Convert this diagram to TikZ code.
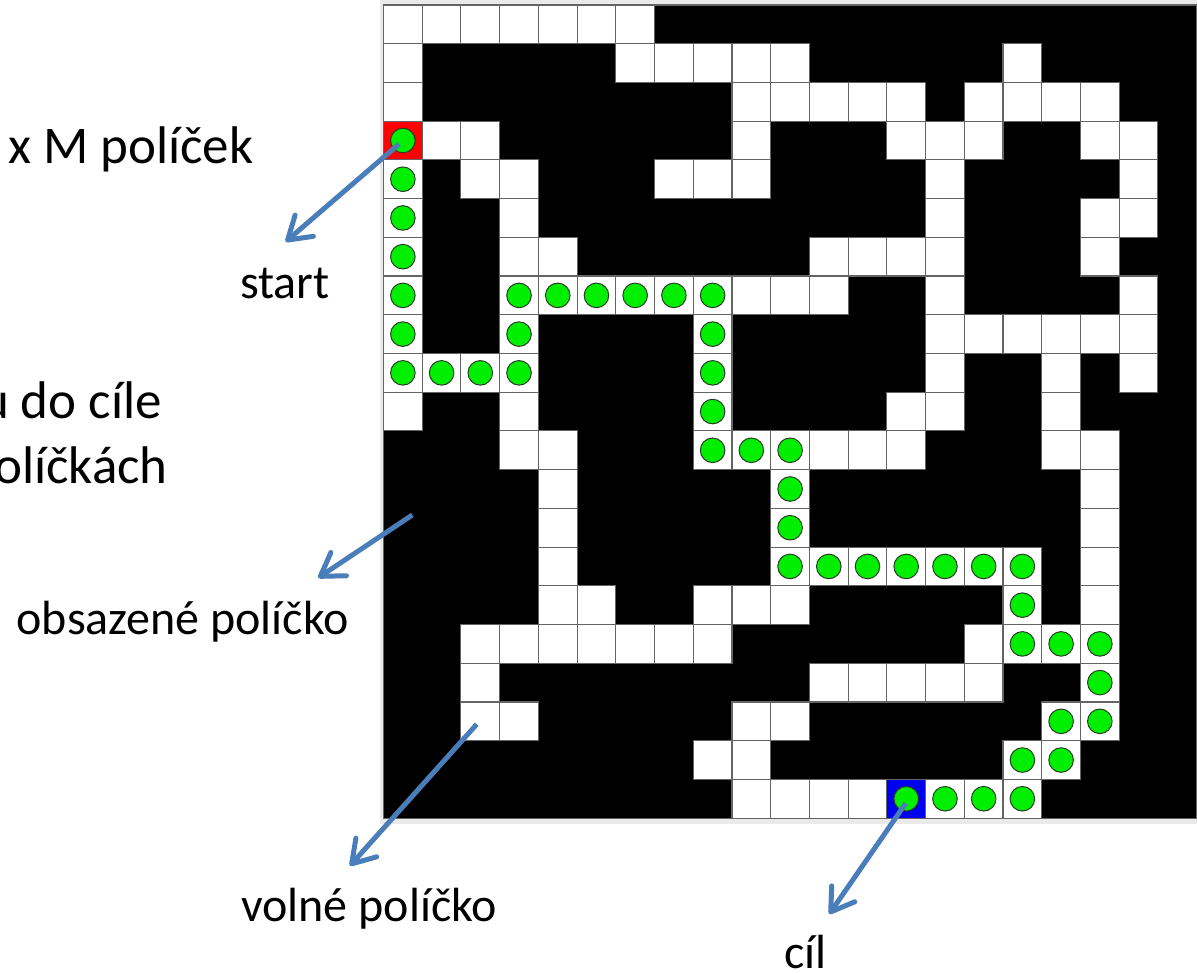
\documentclass[tikz,border=0pt]{standalone}
\usepackage{fontspec}
\setmainfont{Carlito}
\usetikzlibrary{arrows.meta}
\definecolor{pathgreen}{RGB}{0,238,0}
\definecolor{circline}{RGB}{40,60,40}
\definecolor{startred}{RGB}{255,0,0}
\definecolor{goalblue}{RGB}{0,0,240}
\definecolor{arrowblue}{RGB}{74,126,187}
\definecolor{gridgray}{RGB}{100,100,100}
\definecolor{framegray}{RGB}{234,234,234}
\tikzset{
  cellfree/.style={fill=white, draw=gridgray, line width=1.1pt},
  cellstart/.style={fill=startred, draw=gridgray, line width=1.1pt},
  cellgoal/.style={fill=goalblue, draw=gridgray, line width=1.1pt},
  dot/.style={fill=pathgreen, draw=circline, line width=1pt},
  lbl/.style={font=\fontsize{48}{58}\selectfont, inner sep=0pt, text=black},
  biglbl/.style={font=\fontsize{53}{64}\selectfont, inner sep=0pt, text=black},
  pointer/.style={draw=arrowblue, line width=5pt,
    -{Straight Barb[length=22pt,width=28pt,round]}},
}
\newcommand{\cs}{38.72}
\begin{document}
\begin{tikzpicture}[x=1pt,y=-1pt]
\useasboundingbox (0,0) rectangle (1197,974);
\clip (0,0) rectangle (1197,974);
\fill[white] (0,0) rectangle (1197,974);
% frame and board
\fill[framegray] (379.5,0) rectangle (1197,823.5);
\fill[black] (383.5,5) rectangle (1196.6,818.1);
\draw[gridgray, line width=1.1pt] (383.5,5) rectangle (1196.6,818.1);
% free cells (row / columns)
\foreach \r/\cols in {
  0/{0,1,2,3,4,5,6},
  1/{0,6,7,8,9,10,16},
  2/{0,9,10,11,12,13,15,16,17,18},
  3/{1,2,9,13,14,15,18,19},
  4/{0,2,3,7,8,9,14,19},
  5/{0,3,14,18,19},
  6/{0,3,4,11,12,13,14,18},
  7/{0,3,4,5,6,7,8,9,10,11,14,19},
  8/{0,3,8,14,15,16,17,18,19},
  9/{0,1,2,3,8,14,17,19},
  10/{0,3,8,13,14,17},
  11/{3,4,8,9,10,11,12,13,17,18},
  12/{4,10,18},
  13/{4,10,18},
  14/{4,10,11,12,13,14,15,16,18},
  15/{4,5,8,9,10,16,18},
  16/{2,3,4,5,6,7,8,15,16,17,18},
  17/{2,11,12,13,14,15,18},
  18/{2,3,9,10,17,18},
  19/{8,9,16,17},
  20/{9,10,11,12,14,15,16}}{
  \foreach \c in \cols {
    \path[cellfree] (383.5+\c*\cs, 5+\r*\cs) rectangle ++(\cs,\cs);
  }
}
% start and goal cells
\path[cellstart] (383.5+0*\cs, 5+3*\cs) rectangle ++(\cs,\cs);
\path[cellgoal] (383.5+13*\cs, 5+20*\cs) rectangle ++(\cs,\cs);
% path dots (column / row)
\foreach \c/\r in {0/3,0/4,0/5,0/6,0/7,0/8,0/9,1/9,2/9,3/9,3/8,3/7,4/7,5/7,6/7,7/7,8/7,
  8/8,8/9,8/10,8/11,9/11,10/11,10/12,10/13,10/14,11/14,12/14,13/14,14/14,15/14,16/14,
  16/15,16/16,17/16,18/16,18/17,18/18,17/18,17/19,16/19,16/20,15/20,14/20,13/20}{
  \path[dot] (383.5+\c*\cs+0.5*\cs, 5+\r*\cs+0.5*\cs) circle (12.3);
}
% labels
\node[biglbl, anchor=base west] (size) at (8,163.3) {x M políček};
\node[lbl, anchor=base west] (start) at (240,298.3) {start};
\node[biglbl, anchor=base east] (route1) at (162,418.3) {u do cíle};
\node[biglbl, anchor=base east] (route2) at (168,483.3) {olíčkách};
\node[lbl, anchor=base west] (occupied) at (16.5,634) {obsazené políčko};
\node[lbl, anchor=base west] (free) at (241,921.7) {volné políčko};
\node[lbl, anchor=base west] (goal) at (784,968) {cíl};
% pointer coordinates
\coordinate (sFrom) at (399,144);
\coordinate (sTo) at (285.7,241.7);
\coordinate (oFrom) at (412.3,515);
\coordinate (oTo) at (318.3,577.7);
\coordinate (fFrom) at (476.7,724.3);
\coordinate (fTo) at (350,865.7);
\coordinate (gFrom) at (905.7,803.3);
\coordinate (gTo) at (829.3,914);
\draw[pointer] (sFrom) -- (sTo);
\draw[pointer] (oFrom) -- (oTo);
\draw[pointer] (fFrom) -- (fTo);
\draw[pointer] (gFrom) -- (gTo);
\end{tikzpicture}
\end{document}
